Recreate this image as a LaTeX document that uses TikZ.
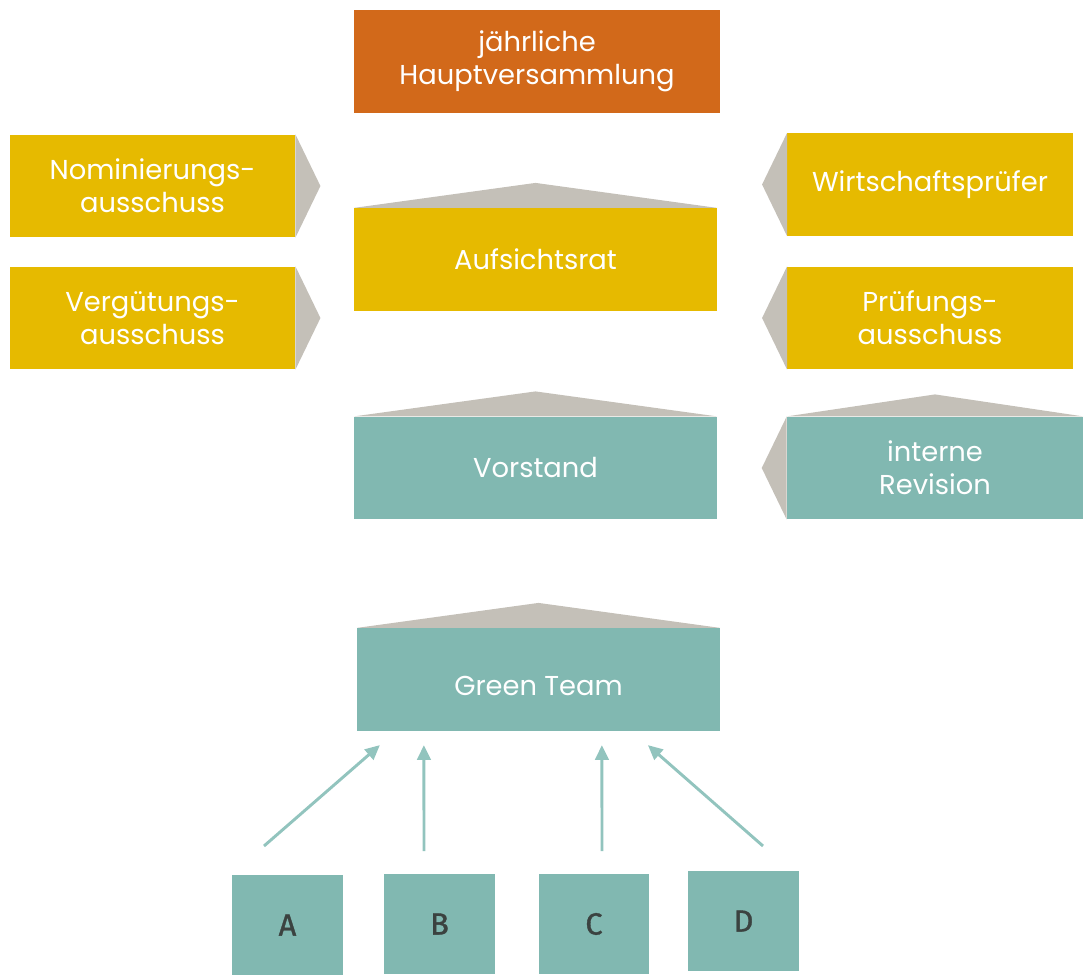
\documentclass[tikz,border=0pt]{standalone}
\usepackage{fontspec}
\setmainfont{Poppins}
\newfontfamily\letterfont[FakeBold=1.2]{Fira Sans}
\usepackage{tikz}
\usetikzlibrary{arrows.meta,calc}
\definecolor{hvorange}{HTML}{D2691A}
\definecolor{gremgelb}{HTML}{E6BA00}
\definecolor{teamgruen}{HTML}{81B8B1}
\definecolor{spitzegrau}{HTML}{C4C0B8}
\definecolor{pfeilgruen}{HTML}{92C4BE}
\definecolor{buchstabe}{HTML}{3B4240}

\begin{document}
\begin{tikzpicture}[x=0.75pt, y=-0.75pt,
  box/.style={minimum width=272pt, minimum height=77pt, inner sep=0pt, align=center, text=white, font=\fontsize{20.5}{25}\selectfont},
  gelb/.style={box, fill=gremgelb},
  gruen/.style={box, fill=teamgruen},
  klein/.style={minimum width=83pt, minimum height=75pt, inner sep=0pt, fill=teamgruen, text=buchstabe, font=\letterfont\fontsize{23}{24}\selectfont},
  spitze/.style={fill=spitzegrau},
  pfeil/.style={draw=pfeilgruen, line width=2.2pt, -{Triangle[length=11pt,width=10pt]}}]
\useasboundingbox (0,0) rectangle (1085,975);

\node[box, fill=hvorange, minimum width=274pt] (hv) at (537,61.5) {jährliche\\Hauptversammlung};
\node[gelb] (auf) at (535.5,259.5) {Aufsichtsrat};
\node[gelb, minimum width=214pt] (nom) at (152.5,186) {Nominierungs-\\ausschuss};
\node[gelb, minimum width=214pt] (verg) at (152.5,318) {Vergütungs-\\ausschuss};
\node[gelb, minimum width=214pt] (wp) at (930,184.5) {Wirtschaftsprüfer};
\node[gelb, minimum width=214pt] (pa) at (930,318) {Prüfungs-\\ausschuss};
\node[gruen] (vor) at (535.5,468) {Vorstand};
\node[gruen, minimum width=222pt] (ir) at (935,468) {interne\\Revision};
\node[gruen, text height=24pt, text depth=0pt] (gt) at (538.5,679.5) {Green Team};

\node[klein] (A) at (287.5,925) {A};
\node[klein] (B) at (439.5,924) {B};
\node[klein] (C) at (594,924) {C};
\node[klein] (D) at (743.5,921) {D};

\fill[spitze] (auf.north west) -- ($(auf.north)+(0,-25)$) -- (auf.north east) -- cycle;
\fill[spitze] (vor.north west) -- ($(vor.north)+(0,-25)$) -- (vor.north east) -- cycle;
\fill[spitze] (gt.north west) -- ($(gt.north)+(0,-25)$) -- (gt.north east) -- cycle;
\fill[spitze] (ir.north west) -- ($(ir.north)+(0,-22)$) -- (ir.north east) -- cycle;
\fill[spitze] (nom.north east) -- ($(nom.east)+(25,0)$) -- (nom.south east) -- cycle;
\fill[spitze] (verg.north east) -- ($(verg.east)+(25,0)$) -- (verg.south east) -- cycle;
\fill[spitze] (wp.north west) -- ($(wp.west)+(-25,0)$) -- (wp.south west) -- cycle;
\fill[spitze] (pa.north west) -- ($(pa.west)+(-25,0)$) -- (pa.south west) -- cycle;
\fill[spitze] (ir.north west) -- ($(ir.west)+(-25,0)$) -- (ir.south west) -- cycle;

\coordinate (a0) at (264,846);
\coordinate (b0) at (424,851);
\coordinate (c0) at (602,851);
\coordinate (d0) at (763,846);
\draw[pfeil] (a0) -- ($(gt.south west)+(23,14)$);
\draw[pfeil] (b0) -- ($(gt.south west)+(67,14)$);
\draw[pfeil] (c0) -- ($(gt.south west)+(245,14)$);
\draw[pfeil] (d0) -- ($(gt.south west)+(291,14)$);
\end{tikzpicture}
\end{document}
